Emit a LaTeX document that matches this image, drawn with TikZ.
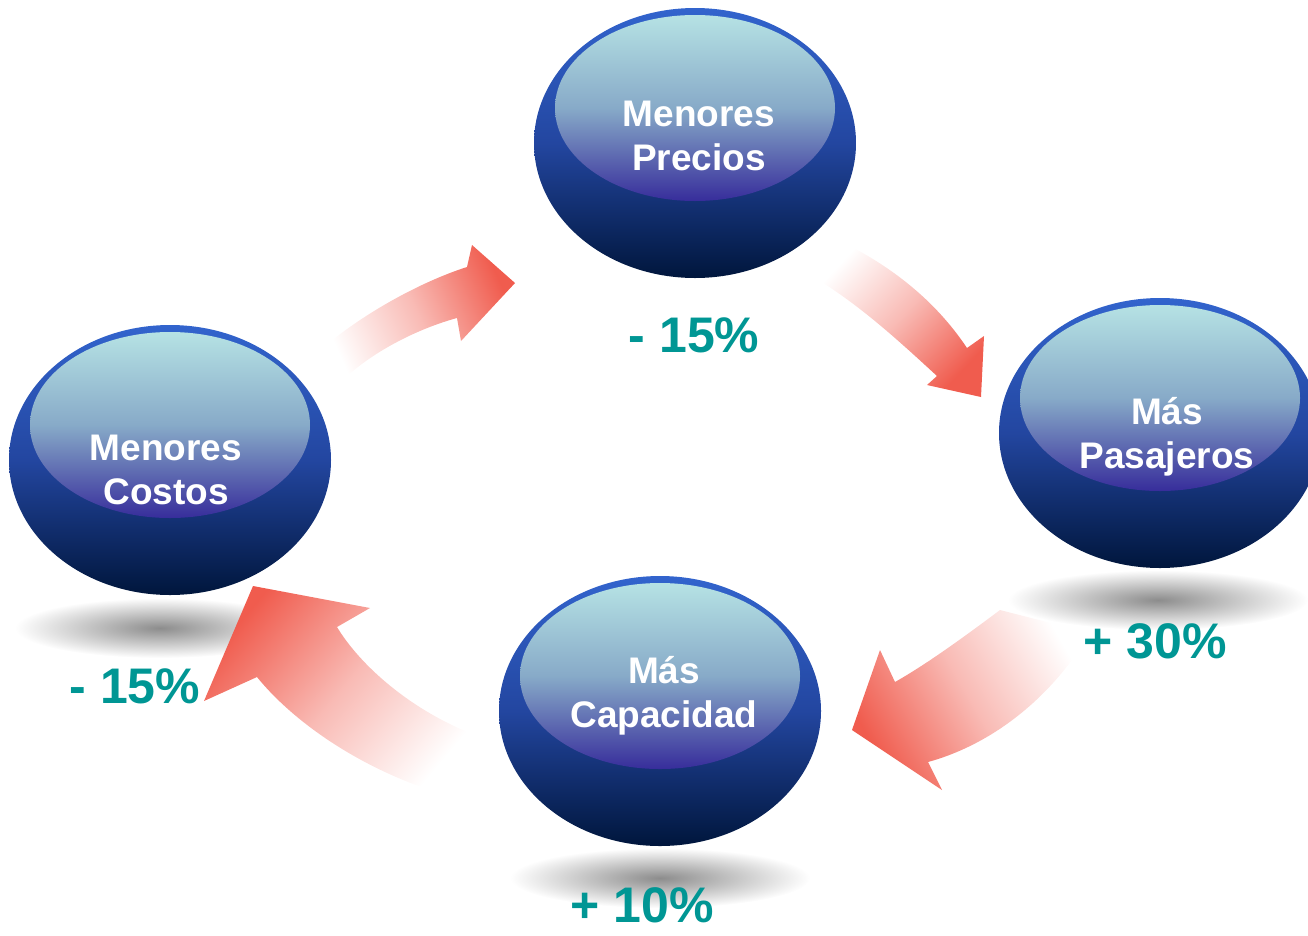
\documentclass[tikz,border=0pt]{standalone}
\usepackage{fontspec}
\setmainfont{Liberation Sans}
\usepackage{tikz}
\usetikzlibrary{shapes.geometric}
\definecolor{ballTop}{RGB}{50,100,205}
\definecolor{ballMid}{RGB}{35,70,160}
\definecolor{ballBot}{RGB}{0,22,60}
\definecolor{shineTop}{RGB}{182,226,228}
\definecolor{shineMid}{RGB}{135,170,200}
\definecolor{shineBot}{RGB}{55,45,155}
\definecolor{arrowred}{RGB}{240,92,78}
\definecolor{pctteal}{RGB}{0,150,148}
\tikzset{ball/.style={ellipse,inner sep=0pt,minimum width=322,minimum height=270,
           top color=ballTop,bottom color=ballBot,middle color=ballMid},
         shine/.style={ellipse,inner sep=0pt,minimum width=280,minimum height=186,
           top color=shineTop,bottom color=shineBot,middle color=shineMid},
         balltext/.style={white,align=center,font=\fontsize{37}{44}\selectfont\bfseries},
         pct/.style={pctteal,inner sep=1pt,font=\fontsize{50}{60}\selectfont\bfseries},
         bigarrow/.style={top color=arrowred,bottom color=white,middle color=arrowred!42}}

\begin{document}
\begin{tikzpicture}[x=1pt,y=-1pt]
\useasboundingbox (0,0) rectangle (1308,935);

% shadows
\shade[inner color=black!45,outer color=white] (160,628) ellipse (145 and 30);
\shade[inner color=black!45,outer color=white] (1158,600) ellipse (150 and 30);
\shade[inner color=black!45,outer color=white] (660,878) ellipse (150 and 30);

% arrows
\shade[bigarrow,shading angle=-66] (318,352) .. controls (360,315) and (420,282) .. (467,267)
  -- (472,245) -- (515,283) -- (461,341) -- (457,318)
  .. controls (420,328) and (375,350) .. (345,378) -- cycle;
\shade[bigarrow,shading angle=-133] (838,240) .. controls (890,265) and (935,300) .. (967,348)
  -- (984,336) -- (981,397) -- (927,385) -- (937,376)
  .. controls (900,342) and (860,305) .. (815,278) -- cycle;
\shade[bigarrow,shading angle=120] (1000,610) .. controls (960,640) and (925,665) .. (895,682)
  -- (880,650) -- (852,730) -- (942,790) -- (928,762)
  .. controls (990,745) and (1050,700) .. (1090,633) -- cycle;
\shade[bigarrow,shading angle=50] (475,735) .. controls (410,710) and (360,665) .. (337,627)
  -- (370,608) -- (253,586) -- (204,701) -- (257,677)
  .. controls (300,730) and (380,780) .. (465,800) -- cycle;

% balls
\node[ball] (precios) at (695,143) {};
\node[shine] (preciosHi) at (695,108) {};
\node[balltext] (preciosTxt) at (699,136) {Menores\\Precios};
\node[pct] (preciosPct) at (694,335) {- 15\%};

\node[ball] (costos) at (170,460) {};
\node[shine] (costosHi) at (170,425) {};
\node[balltext] (costosTxt) at (166,470) {Menores\\Costos};
\node[pct] (costosPct) at (135,686) {- 15\%};

\node[ball] (pasajeros) at (1160,433) {};
\node[shine] (pasajerosHi) at (1160,398) {};
\node[balltext] (pasajerosTxt) at (1167,437) {Más\\Pasajeros};
\node[pct] (pasajerosPct) at (1155,641) {+ 30\%};

\node[ball] (capacidad) at (660,711) {};
\node[shine] (capacidadHi) at (660,676) {};
\node[balltext] (capacidadTxt) at (664,696) {Más\\Capacidad};
\node[pct] (capacidadPct) at (642,905) {+ 10\%};
\end{tikzpicture}
\end{document}
